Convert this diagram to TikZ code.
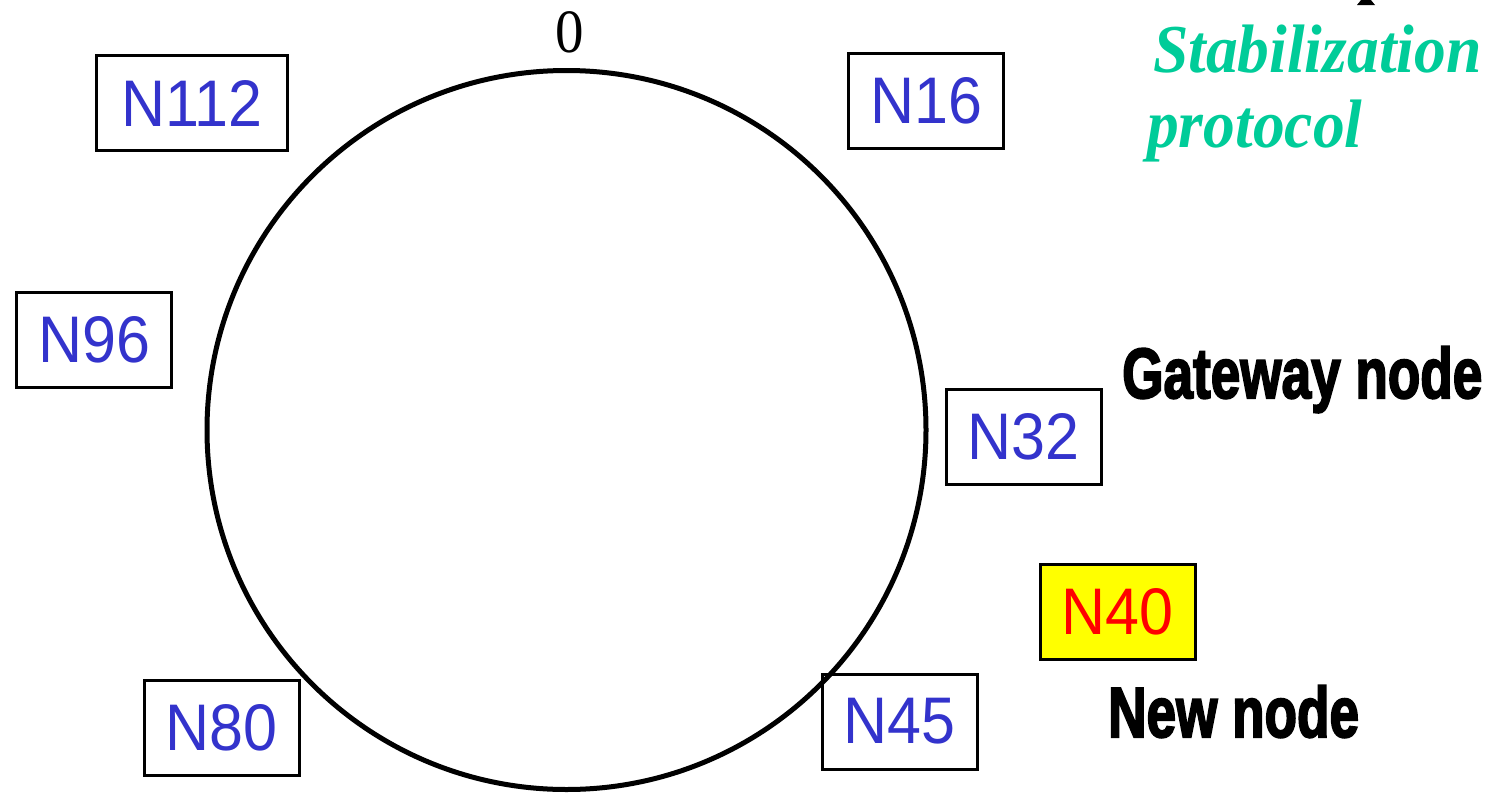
\documentclass[tikz,border=0pt]{standalone}
\usepackage{fontspec}
\setmainfont{Liberation Serif}
\newfontfamily\labelfont{Liberation Sans}
\newfontfamily\heavyfont[FakeBold=3]{Liberation Sans Bold}
\definecolor{nodeblue}{HTML}{3333CC}
\definecolor{newred}{HTML}{FF0000}
\definecolor{newyellow}{HTML}{FFFF00}
\definecolor{stabgreen}{HTML}{00CC99}
\newcommand{\vstretch}[1]{\scalebox{1}[1.08]{#1}}
\tikzset{
  ringbox/.style={draw=black, line width=3pt, minimum width=155pt, minimum height=95pt,
    inner sep=0pt, text=nodeblue, font=\labelfont\fontsize{61}{61}\selectfont},
  newbox/.style={ringbox, fill=newyellow, text=newred},
  heavylabel/.style={anchor=base west, inner sep=0pt, text=black,
    font=\heavyfont\fontsize{64}{64}\selectfont},
  stablabel/.style={anchor=base west, inner sep=0pt, text=stabgreen,
    font=\bfseries\itshape\fontsize{63.5}{63.5}\selectfont},
}
\begin{document}
\begin{tikzpicture}[x=1pt,y=-1pt]
  \clip (0,0) rectangle (1510,795);
  \fill[white] (0,0) rectangle (1510,795);

  % identifier ring
  \node[circle, draw=black, line width=5pt, minimum size=719pt, inner sep=0pt] (ring) at (566.5,430) {};
  \node[anchor=base, inner sep=0pt, font=\fontsize{57}{57}\selectfont] (zero) at (570,52) {\vstretch{0}};

  % nodes on the ring
  \node[ringbox, minimum width=191pt] (n112) at (192,103) {\vstretch{N112}};
  \node[ringbox] (n16) at (926,100.5) {\vstretch{N16}};
  \node[ringbox] (n96) at (94,340) {\vstretch{N96}};
  \node[ringbox] (n32) at (1023.5,436.5) {\vstretch{N32}};
  \node[newbox] (n40) at (1117.5,612) {\vstretch{N40}};
  \node[ringbox] (n80) at (221.5,727.5) {\vstretch{N80}};
  \node[ringbox] (n45) at (899.5,721.5) {\vstretch{N45}};

  % labels
  \node[heavylabel] (gateway) at (1122,398) {\scalebox{0.83}[1.11]{Gateway node}};
  \node[heavylabel] (newnode) at (1108,737) {\scalebox{0.83}[1.11]{New node}};

  \node[stablabel] (stab1) at (1153,72) {\vstretch{Stabilization}};
  \node[stablabel] (stab2) at (1147,147) {\vstretch{protocol}};

  % arrow tip entering from above
  \fill[black] (1357,5) -- (1375,5) -- (1366,-6) -- cycle;
\end{tikzpicture}
\end{document}
